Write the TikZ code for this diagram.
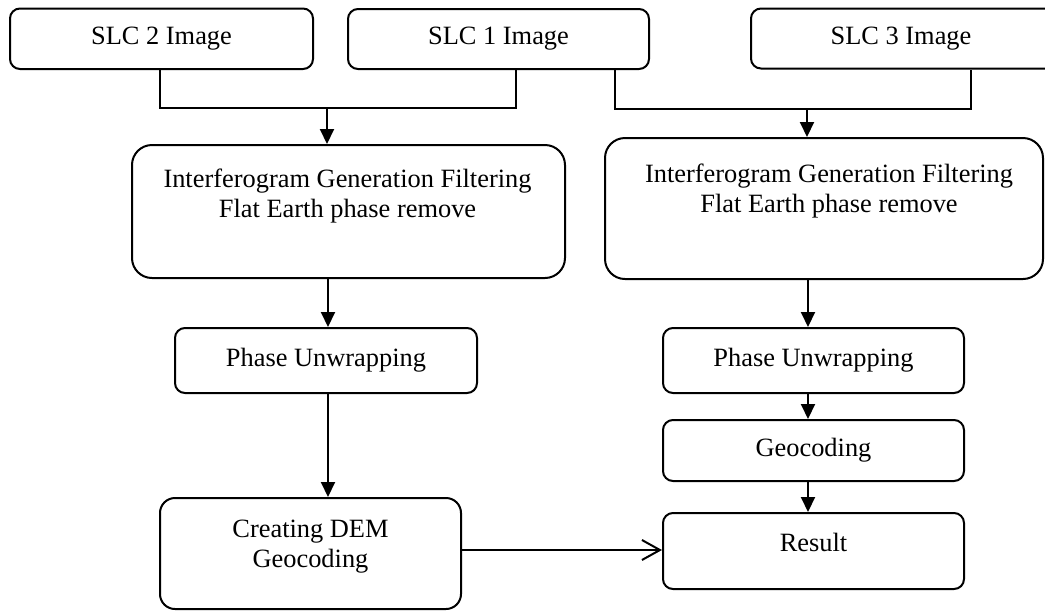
\documentclass[tikz,border=0pt]{standalone}
\usepackage{fontspec}
\setmainfont{Liberation Serif}
\usetikzlibrary{arrows.meta}
\tikzset{
  box/.style={draw, line width=1pt, rounded corners=5pt, inner sep=0pt, font=\fontsize{13.2pt}{15pt}\selectfont},
  bigbox/.style={box, rounded corners=10pt},
  txt/.style={inner sep=0pt, align=center, font=\fontsize{13.2pt}{15pt}\selectfont},
  conn/.style={line width=1pt},
  arr/.style={line width=1pt, -{Triangle[length=7.5pt,width=7pt]}},
  openarr/.style={line width=1pt, -{Straight Barb[length=9pt,width=10pt,line width=1pt]}}
}
\begin{document}
\begin{tikzpicture}[x=0.5pt,y=-0.5pt]
\useasboundingbox (0,0) rectangle (1045,612);
\begin{scope}
\clip (0,0) rectangle (1045,612);
% top row
\node[box, minimum width=151.5pt, minimum height=30.25pt] (slc2) at (161.5,38.75) {SLC 2 Image};
\node[box, minimum width=150.5pt, minimum height=30pt] (slc1) at (498.5,39) {SLC 1 Image};
\node[box, minimum width=160pt, minimum height=30pt] (slc3) at (911,38.5) {};
\node[txt] (slc3t) at (901,38.5) {SLC 3 Image};
\end{scope}
% interferogram boxes
\node[bigbox, minimum width=216.5pt, minimum height=66.5pt] (intl) at (348.5,211.5) {};
\node[txt, anchor=north] (intlt) at (347.5,169) {Interferogram Generation Filtering\\Flat Earth phase remove};
\node[bigbox, minimum width=219pt, minimum height=70.5pt] (intr) at (824,208.5) {};
\node[txt, anchor=north] (intrt) at (829,164) {Interferogram Generation Filtering\\Flat Earth phase remove};
% phase unwrapping
\node[box, minimum width=151pt, minimum height=32.5pt] (pul) at (326,360.5) {Phase Unwrapping};
\node[box, minimum width=150.5pt, minimum height=32.5pt] (pur) at (813.5,360.5) {Phase Unwrapping};
% right column
\node[box, minimum width=150.5pt, minimum height=30.5pt] (geo) at (813.5,450.5) {Geocoding};
\node[box, minimum width=150.5pt, minimum height=38pt] (res) at (813.5,551) {};
\node[txt, anchor=base] (rest) at (813.5,551) {Result};
% DEM
\node[box, rounded corners=7.5pt, minimum width=150.5pt, minimum height=55.5pt] (dem) at (310.5,553.5) {};
\node[txt, anchor=north] (demt) at (310.5,520) {Creating DEM\\Geocoding};
% junctions
\coordinate (j1) at (160,108);
\coordinate (j2) at (516,108);
\coordinate (m1) at (327,108);
\coordinate (j3) at (615,109);
\coordinate (j4) at (971,109);
\coordinate (m2) at (807,109);
\coordinate (cl) at (328,0);
\coordinate (cr) at (808,0);
\coordinate (h) at (0,550);
% connectors
\draw[conn] (slc2.south -| j1) -- (j1) -- (j2) -- (slc1.south -| j2);
\draw[arr] (m1) -- (intl.north -| m1);
\draw[conn] (slc1.south -| j3) -- (j3) -- (j4) -- (slc3.south -| j4);
\draw[arr] (m2) -- (intr.north -| m2);
\draw[arr] (intl.south -| cl) -- (pul.north -| cl);
\draw[arr] (pul.south -| cl) -- (dem.north -| cl);
\draw[arr] (intr.south -| cr) -- (pur.north -| cr);
\draw[arr] (pur.south -| cr) -- (geo.north -| cr);
\draw[arr] (geo.south -| cr) -- (res.north -| cr);
\draw[openarr] (dem.east |- h) -- (res.west |- h);
\end{tikzpicture}
\end{document}
